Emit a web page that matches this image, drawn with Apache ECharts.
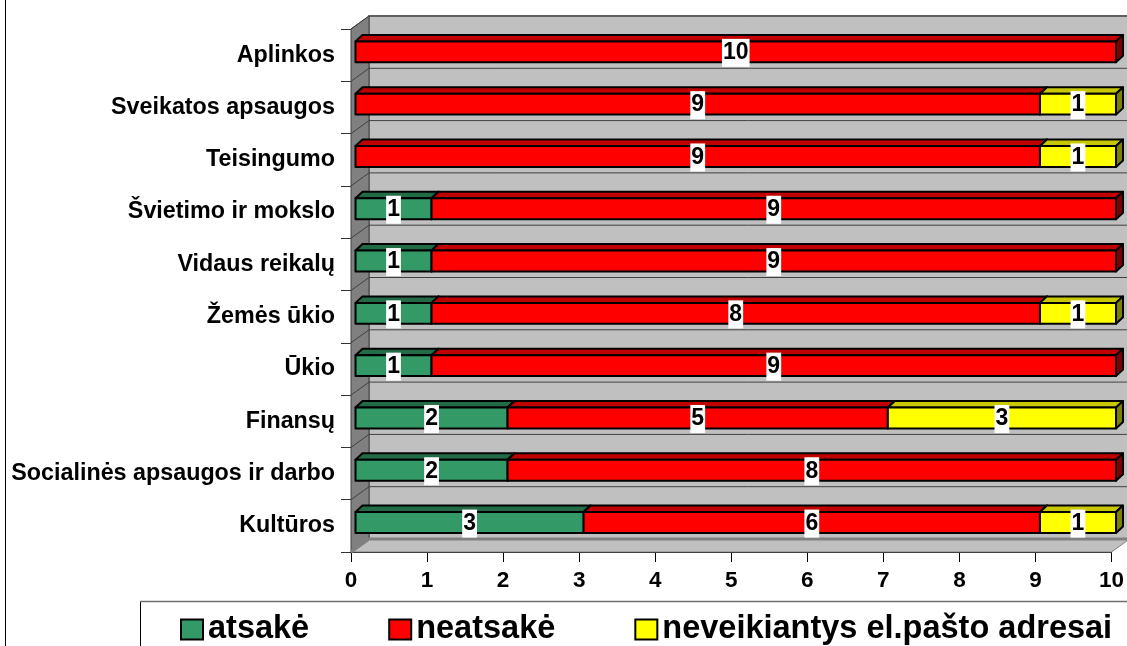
<!DOCTYPE html>
<html>
<head>
<meta charset="utf-8">
<script src="https://cdn.jsdelivr.net/npm/echarts@6/dist/echarts.min.js"></script>
<style>
  html, body { margin: 0; padding: 0; background: #fff; }
  #main { width: 1127px; height: 646px; }
</style>
</head>
<body>
<div id="main"></div>
<script>
// ministerijos (is virsaus i apacia)
var categories = ['Aplinkos', 'Sveikatos apsaugos', 'Teisingumo', 'Švietimo ir mokslo', 'Vidaus reikalų',
  'Žemės ūkio', 'Ūkio', 'Finansų', 'Socialinės apsaugos ir darbo', 'Kultūros'];
var atsake     = [0, 0, 0, 1, 1, 1, 1, 2, 2, 3];
var neatsake   = [10, 9, 9, 9, 9, 8, 9, 5, 8, 6];
var neveikiant = [0, 1, 1, 0, 0, 1, 0, 3, 0, 1];
var seriesNames = ['atsakė', 'neatsakė', 'neveikiantys el.pašto adresai'];
var xTicks = [0, 10, 1]; // min, max, interval

var FONT = '"Liberation Sans", Arial, sans-serif';
// front, top, side
var colors = [
  ['#339966', '#236b47', '#1a4d33'],
  ['#ff0000', '#c00000', '#800000'],
  ['#ffff00', '#c8c800', '#808000']
];
var DX = 18, DY = 13;   // wall depth
var BX = 7, BY = 6.5;   // bar depth

// segmentai: [kategorija, pradzia, pabaiga, reiksme]
var values = [atsake, neatsake, neveikiant];
var segs = [[], [], []];
for (var i = 0; i < categories.length; i++) {
  var acc = 0;
  for (var s = 0; s < values.length; s++) {
    var v = values[s][i];
    if (v > 0) segs[s].push([i, acc, acc + v, v]);
    acc += v;
  }
}

function renderBar(si) {
  return function(params, api) {
    var cat = api.value(0), a = api.value(1), b = api.value(2), v = api.value(3);
    var p0 = api.coord([a, cat]);
    var p1 = api.coord([b, cat]);
    var band = api.size([0, 1])[1];
    var h = band * 0.4;
    var x0 = p0[0] + 4.5, x1 = p1[0] + 4.5;
    var yc = p0[1] - 3.3;
    var yT = yc - h / 2, yB = yc + h / 2;
    var c = colors[si];
    var line = { stroke: '#000', lineWidth: 2, lineJoin: 'round' };
    return {
      type: 'group',
      children: [
        { type: 'polygon', shape: { points: [[x0, yT], [x0 + BX, yT - BY], [x1 + BX, yT - BY], [x1, yT]] },
          style: Object.assign({ fill: c[1] }, line) },
        { type: 'polygon', shape: { points: [[x1, yT], [x1 + BX, yT - BY], [x1 + BX, yB - BY], [x1, yB]] },
          style: Object.assign({ fill: c[2] }, line) },
        { type: 'rect', shape: { x: x0, y: yT, width: x1 - x0, height: h },
          style: Object.assign({ fill: c[0] }, line) },
        { type: 'text', x: (x0 + x1) / 2, y: yc + 1,
          style: { text: String(v), fill: '#000', font: 'bold 23px ' + FONT,
            align: 'center', verticalAlign: 'middle', backgroundColor: '#fff', padding: [3, 1, 2, 1] } }
      ]
    };
  };
}

function renderWalls(params, api) {
  var cs = params.coordSys;
  var x0 = cs.x, y0 = cs.y, w = cs.width, h = cs.height;
  var yb = y0 + h;
  var kids = [
    { type: 'rect', shape: { x: x0 + DX, y: y0 - DY, width: w + 40, height: h },
      style: { fill: '#c0c0c0', stroke: '#808080', lineWidth: 2 } },
    { type: 'polygon', shape: { points: [[x0, yb], [x0 + DX, yb - DY], [x0 + w + DX, yb - DY], [x0 + w, yb]] },
      style: { fill: '#c0c0c0', stroke: '#808080', lineWidth: 1 } },
    { type: 'polygon', shape: { points: [[x0, y0], [x0 + DX, y0 - DY], [x0 + DX, yb - DY], [x0, yb]] },
      style: { fill: '#808080', stroke: '#404040', lineWidth: 1 } }
  ];
  var n = categories.length;
  for (var k = 0; k <= n; k++) {
    var y = y0 + h * k / n;
    kids.push({ type: 'polyline', shape: { points: [[x0, y], [x0 + DX, y - DY], [x0 + w + DX + 40, y - DY]] },
      style: { stroke: k === n ? '#808080' : '#404040', lineWidth: k === n ? 3 : 1, fill: null } });
  }
  return { type: 'group', children: kids };
}

var series = [{
  type: 'custom',
  name: 'walls',
  silent: true,
  z: 1,
  renderItem: renderWalls,
  data: [[0, 0]],
  encode: { x: 0, y: 1 }
}];
for (var si = 0; si < 3; si++) {
  series.push({
    type: 'custom',
    name: seriesNames[si],
    z: 2 + si,
    itemStyle: { color: colors[si][0] },
    renderItem: renderBar(si),
    encode: { x: [1, 2], y: 0 },
    data: segs[si]
  });
}

var option = {
  backgroundColor: '#FFFFFF',
  animation: false,
  grid: { left: 351, right: 13, top: 29, bottom: 94 },
  xAxis: {
    type: 'value',
    min: xTicks[0], max: xTicks[1], interval: xTicks[2],
    axisLine: { show: true, lineStyle: { color: '#000', width: 1 } },
    axisTick: { show: true, length: 10, lineStyle: { color: '#000' } },
    axisLabel: { color: '#000', fontWeight: 'bold', fontSize: 22.5, fontFamily: FONT, margin: 17 },
    splitLine: { show: false }
  },
  yAxis: {
    type: 'category',
    inverse: true,
    data: categories,
    axisLine: { show: true, lineStyle: { color: '#333' } },
    axisTick: { show: true, length: 10, lineStyle: { color: '#333' } },
    axisLabel: { color: '#000', fontWeight: 'bold', fontSize: 23.3, fontFamily: FONT, margin: 16 },
    splitLine: { show: false }
  },
  legend: {
    data: seriesNames,
    left: 180,
    top: 613,
    padding: 0,
    itemGap: 79,
    itemWidth: 22,
    itemHeight: 20,
    icon: 'rect',
    itemStyle: { borderColor: '#000', borderWidth: 2 },
    textStyle: { color: '#000', fontWeight: 'bold', fontSize: 32.5, fontFamily: FONT }
  },
  graphic: [
    { type: 'line', shape: { x1: 5.5, y1: 0, x2: 5.5, y2: 646 }, style: { stroke: '#000', lineWidth: 1 } },
    { type: 'line', shape: { x1: 140.5, y1: 601.5, x2: 140.5, y2: 646 }, style: { stroke: '#000', lineWidth: 1 } },
    { type: 'line', shape: { x1: 140, y1: 601.5, x2: 1127, y2: 601.5 }, style: { stroke: '#707070', lineWidth: 1.5 } }
  ],
  series: series
};

var chart = echarts.init(document.getElementById('main'));
chart.setOption(option);
</script>
</body>
</html>
